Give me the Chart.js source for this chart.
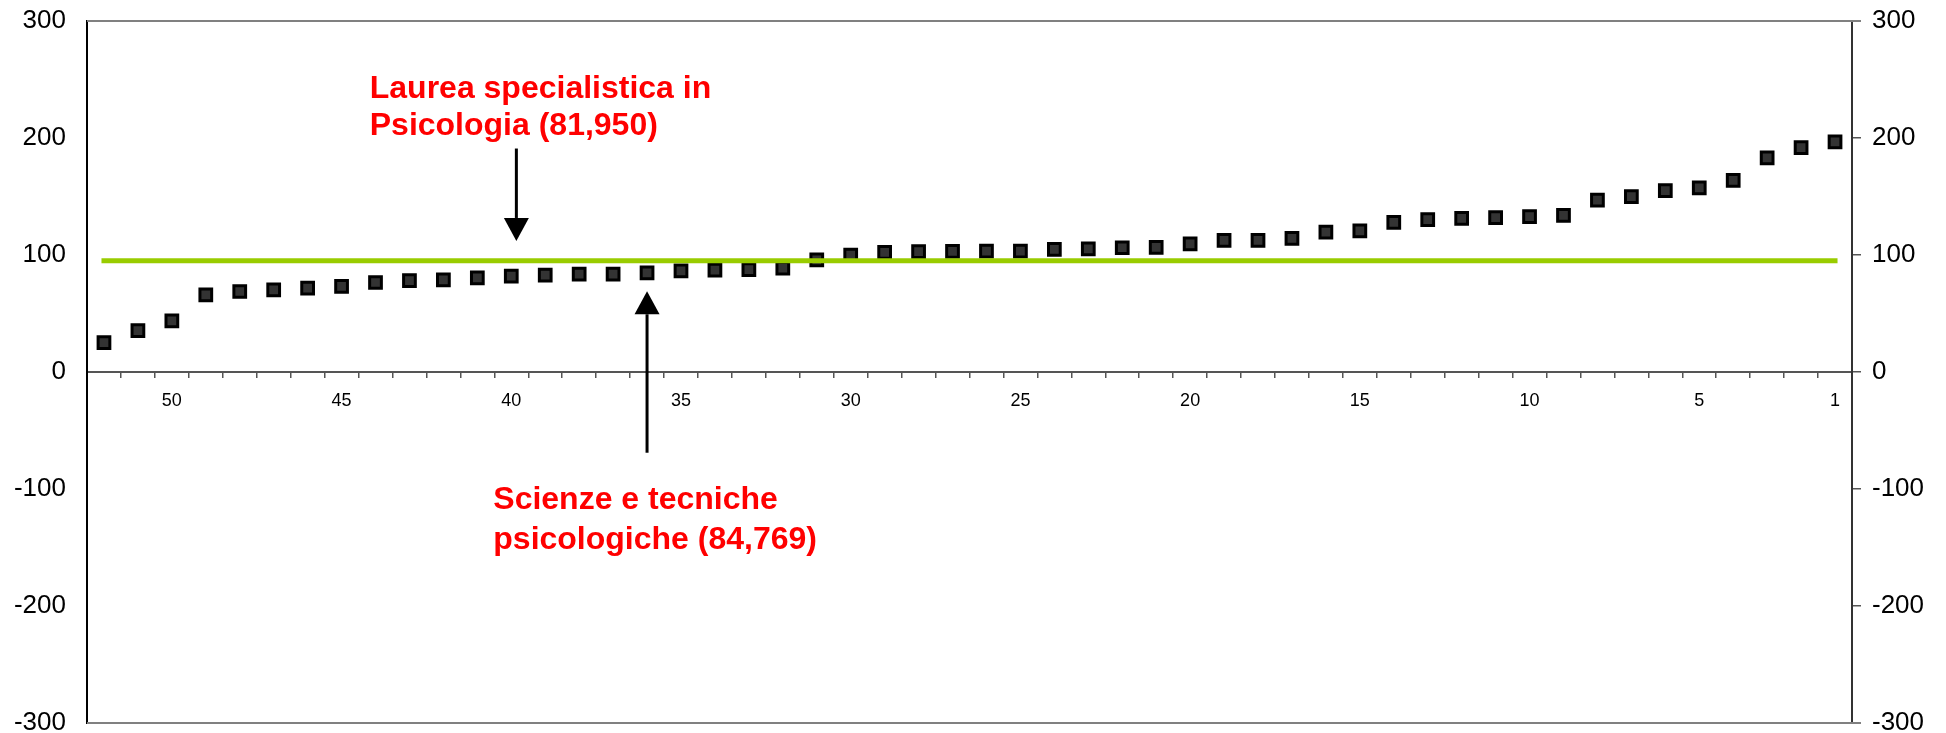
<!DOCTYPE html>
<html>
<head>
<meta charset="utf-8">
<script src="https://cdn.jsdelivr.net/npm/chart.js@4.4.1/dist/chart.umd.min.js"></script>
<style>
    html, body { margin: 0; padding: 0; background: #fff; overflow: hidden; }
    .grafico-box { position: relative; width: 1946px; height: 750px; }
</style>
</head>
<body>
<div class="grafico-box"><canvas id="grafico"></canvas></div>
<script>
// posizioni in classifica (da sinistra a destra)
const posizioni = [52, 51, 50, 49, 48, 47, 46, 45, 44, 43, 42, 41, 40, 39, 38, 37, 36, 35, 34, 33,
    32, 31, 30, 29, 28, 27, 26, 25, 24, 23, 22, 21, 20, 19, 18, 17, 16, 15, 14, 13,
    12, 11, 10, 9, 8, 7, 6, 5, 4, 3, 2, 1]
const posizioniMostrate = [50, 45, 40, 35, 30, 25, 20, 15, 10, 5, 1]

// punteggi dei corsi
const punteggi = [25.1, 35.4, 43.7, 65.9, 68.8, 70.2, 71.7, 73.1, 76.5, 78.2,
    78.8, 80.5, 81.95, 82.8, 83.6, 83.7, 84.769, 86.5, 87.1, 87.4,
    88.8, 95.9, 99.9, 102.2, 102.8, 103.0, 103.3, 103.3, 104.8, 105.3,
    106.2, 106.5, 109.6, 112.5, 112.5, 114.2, 119.5, 120.7, 127.9, 130.2,
    131.3, 131.9, 132.7, 133.9, 147.0, 149.9, 155.0, 157.3, 163.8, 183.0,
    191.8, 196.7]

// media generale (linea verde)
const media = 95

// asse y
const yMin = -300
const yMax = 300
const yPasso = 100

const font = '"Liberation Sans", Arial, sans-serif'

function freccia(ctx, x, yCoda, yPunta) {
    const dir = yPunta > yCoda ? 1 : -1
    const testa = 23
    ctx.strokeStyle = '#000'
    ctx.fillStyle = '#000'
    ctx.lineWidth = 3
    ctx.beginPath()
    ctx.moveTo(x, yCoda)
    ctx.lineTo(x, yPunta - dir * testa)
    ctx.stroke()
    ctx.beginPath()
    ctx.moveTo(x, yPunta)
    ctx.lineTo(x - 12.5, yPunta - dir * testa)
    ctx.lineTo(x + 12.5, yPunta - dir * testa)
    ctx.closePath()
    ctx.fill()
}

const annotazioni = {
    id: 'annotazioni',
    afterDraw(chart) {
        const { ctx, chartArea, scales } = chart
        const x = scales.x
        const y = scales.y
        ctx.save()

        // bordo sopra e sotto
        ctx.strokeStyle = '#808080'
        ctx.lineWidth = 2
        ctx.beginPath()
        ctx.moveTo(chartArea.left, chartArea.top)
        ctx.lineTo(chartArea.right + 9, chartArea.top)
        ctx.moveTo(chartArea.left, chartArea.bottom)
        ctx.lineTo(chartArea.right + 9, chartArea.bottom)
        ctx.stroke()

        // frecce
        freccia(ctx, x.getPixelForValue(12.15), y.getPixelForValue(191), y.getPixelForValue(112))
        freccia(ctx, x.getPixelForValue(16), y.getPixelForValue(-69), y.getPixelForValue(69))

        // testi
        ctx.fillStyle = '#ff0000'
        ctx.font = 'bold 32px ' + font
        ctx.textAlign = 'left'
        ctx.textBaseline = 'alphabetic'
        const x1 = x.getPixelForValue(7.83)
        ctx.fillText('Laurea specialistica in', x1, y.getPixelForValue(234.6))
        ctx.fillText('Psicologia (81,950)', x1, y.getPixelForValue(202.3))
        const x2 = x.getPixelForValue(11.47)
        ctx.fillText('Scienze e tecniche', x2, y.getPixelForValue(-117.3))
        ctx.fillText('psicologiche (84,769)', x2, y.getPixelForValue(-151.3))

        ctx.restore()
    }
}

// larghezza fissa degli assi y, senza spazio extra sopra e sotto
function fissaAsse(larghezza) {
    return scale => {
        scale.width = larghezza
        scale.paddingTop = 0
        scale.paddingBottom = 0
    }
}

const grafico = new Chart(document.getElementById('grafico').getContext('2d'), {
    type: 'line',
    data: {
        labels: posizioni,
        datasets: [{
            label: 'Media',
            data: posizioni.map(() => media),
            borderColor: '#99cc00',
            borderWidth: 5,
            borderCapStyle: 'square',
            pointRadius: 0,
            yAxisID: 'y',
            order: 0
        }, {
            label: 'Punteggio',
            data: punteggi,
            showLine: false,
            pointStyle: 'rect',
            pointRadius: 8.3,
            pointBackgroundColor: '#333',
            pointBorderColor: '#000',
            pointBorderWidth: 3,
            yAxisID: 'y',
            order: 1
        }]
    },
    options: {
        responsive: true,
        maintainAspectRatio: false,
        animation: false,
        layout: { padding: { top: 21, bottom: 27, left: 0, right: 0 } },
        plugins: {
            legend: { display: false },
            tooltip: { enabled: false }
        },
        scales: {
            x: {
                position: { y: 0 },
                offset: true,
                grid: { offset: true, drawOnChartArea: false, tickLength: 5, color: '#555', lineWidth: 1.5 },
                border: { color: '#555', width: 2 },
                ticks: {
                    autoSkip: false,
                    maxRotation: 0,
                    color: '#000',
                    padding: 13,
                    font: { size: 18, family: font },
                    callback: (val, i) => posizioniMostrate.includes(posizioni[i]) ? String(posizioni[i]) : ''
                }
            },
            y: {
                position: 'left',
                min: yMin,
                max: yMax,
                ticks: { stepSize: yPasso, color: '#000', padding: 21, font: { size: 26, family: font } },
                grid: { drawOnChartArea: false, drawTicks: false },
                border: { color: '#000', width: 2 },
                afterFit: fissaAsse(87)
            },
            y2: {
                position: 'right',
                min: yMin,
                max: yMax,
                ticks: { stepSize: yPasso, color: '#000', padding: 11, font: { size: 26, family: font } },
                grid: { drawOnChartArea: false, tickLength: 9, color: '#555', lineWidth: 1.5 },
                border: { color: '#333', width: 2 },
                afterFit: fissaAsse(94)
            }
        }
    },
    plugins: [annotazioni]
})
</script>
</body>
</html>
